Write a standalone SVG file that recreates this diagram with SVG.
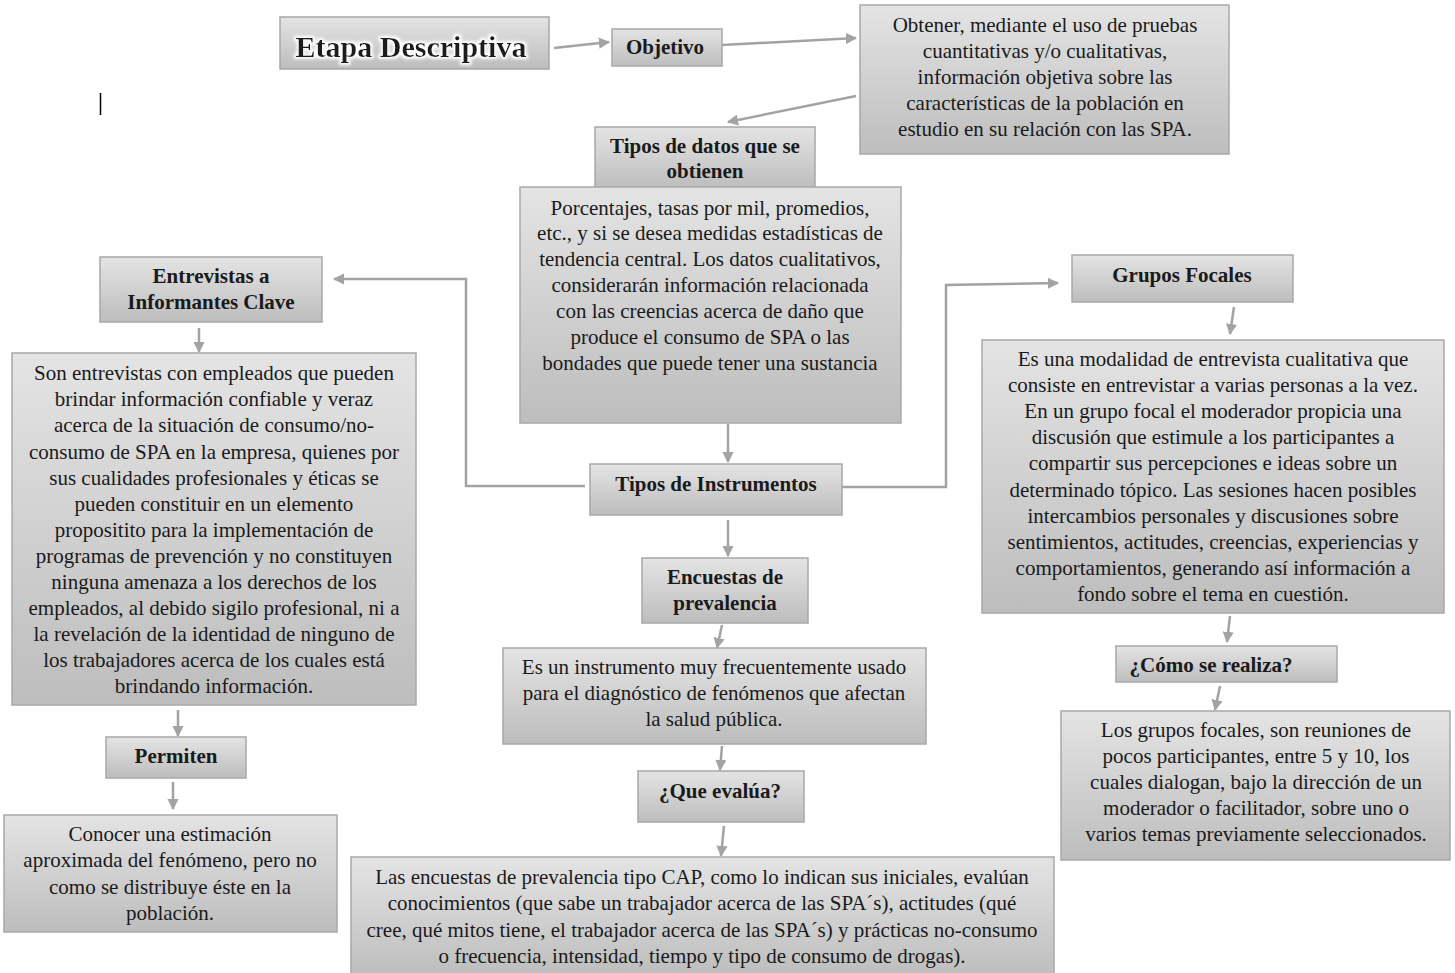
<svg xmlns="http://www.w3.org/2000/svg" width="1455" height="973" viewBox="0 0 1455 973">
  <defs>
    <linearGradient id="boxFill" x1="0" y1="0" x2="0" y2="1">
      <stop offset="0" stop-color="#e4e4e4"/>
      <stop offset="1" stop-color="#bdbdbd"/>
    </linearGradient>
    <filter id="glow" x="-10%" y="-30%" width="120%" height="160%">
      <feMorphology in="SourceAlpha" operator="dilate" radius="2" result="d"/>
      <feGaussianBlur in="d" stdDeviation="1.5" result="b"/>
      <feFlood flood-color="#ffffff"/>
      <feComposite in2="b" operator="in" result="g"/>
      <feMerge><feMergeNode in="g"/><feMergeNode in="SourceGraphic"/></feMerge>
    </filter>
    <marker id="arrow" viewBox="0 0 10 10" refX="9" refY="5" markerWidth="4.5" markerHeight="4.5" orient="auto" markerUnits="strokeWidth">
      <path d="M0,0 L10,5 L0,10 z" fill="#a3a3a3"/>
    </marker>
  </defs>
  <style>
    .box { fill: url(#boxFill); stroke: #a8a8a8; stroke-width: 1.5; }
    .t { font-family: "Liberation Serif", "Times New Roman", serif; font-size: 21px; fill: #1a1a1a; text-anchor: middle; dominant-baseline: central; }
    .h { font-weight: bold; }
    .title { font-size: 30px; font-weight: bold; }
    .conn { fill: none; stroke: #a3a3a3; stroke-width: 2.5; }
    .arr { marker-end: url(#arrow); }
  </style>

  <rect width="1455" height="973" fill="#ffffff"/>

  <!-- connectors -->
  <g id="connectors">
    <line class="conn arr" x1="554" y1="48" x2="609" y2="42"/>
    <line class="conn arr" x1="722" y1="45" x2="856" y2="38"/>
    <line class="conn arr" x1="856" y1="96" x2="728" y2="122"/>
    <line class="conn arr" x1="728" y1="424" x2="728" y2="462"/>
    <polyline class="conn arr" points="585,486 466,486 466,279 334,279"/>
    <polyline class="conn arr" points="842,487 946,487 946,285 1058,283"/>
    <line class="conn arr" x1="199" y1="328" x2="199" y2="352"/>
    <line class="conn arr" x1="178" y1="710" x2="178" y2="736"/>
    <line class="conn arr" x1="173" y1="782" x2="173" y2="809"/>
    <line class="conn arr" x1="1234" y1="307" x2="1230" y2="334"/>
    <line class="conn arr" x1="1230" y1="616" x2="1227" y2="642"/>
    <line class="conn arr" x1="1220" y1="686" x2="1215" y2="710"/>
    <line class="conn arr" x1="728" y1="520" x2="728" y2="556"/>
    <line class="conn arr" x1="722" y1="625" x2="717" y2="648"/>
    <line class="conn arr" x1="722" y1="746" x2="720" y2="770"/>
    <line class="conn arr" x1="724" y1="826" x2="721" y2="856"/>
  </g>

  <!-- text cursor -->
  <line x1="100.5" y1="93" x2="100.5" y2="115" stroke="#000000" stroke-width="1.5"/>

  <g id="etapa">
    <rect class="box" x="280" y="17" width="269" height="52"/>
    <text class="t title" x="411" y="46" filter="url(#glow)">Etapa Descriptiva</text>
  </g>

  <g id="objetivo">
    <rect class="box" x="612" y="29" width="110" height="37"/>
    <text class="t h" x="665" y="47">Objetivo</text>
  </g>

  <g id="obtener">
    <rect class="box" x="860" y="5" width="369" height="149"/>
    <text class="t" x="1045" y="25">Obtener, mediante el uso de pruebas</text>
    <text class="t" x="1045" y="51">cuantitativas y/o cualitativas,</text>
    <text class="t" x="1045" y="77">información objetiva sobre las</text>
    <text class="t" x="1045" y="103">características de la población en</text>
    <text class="t" x="1045" y="129">estudio en su relación con las SPA.</text>
  </g>

  <g id="tipos-datos">
    <rect class="box" x="595" y="127" width="220" height="61"/>
    <text class="t h" x="705" y="146">Tipos de datos que se</text>
    <text class="t h" x="705" y="171">obtienen</text>
  </g>

  <g id="porcentajes">
    <rect class="box" x="520" y="187" width="381" height="236"/>
    <text class="t" x="710" y="208">Porcentajes, tasas por mil, promedios,</text>
    <text class="t" x="710" y="233">etc., y si se desea medidas estadísticas de</text>
    <text class="t" x="710" y="259">tendencia central.  Los datos cualitativos,</text>
    <text class="t" x="710" y="285">considerarán información relacionada</text>
    <text class="t" x="710" y="311">con las creencias acerca de daño que</text>
    <text class="t" x="710" y="337">produce el consumo de SPA o las</text>
    <text class="t" x="710" y="363">bondades que puede tener una sustancia</text>
  </g>

  <g id="tipos-instrumentos">
    <rect class="box" x="590" y="464" width="252" height="51"/>
    <text class="t h" x="716" y="484">Tipos de Instrumentos</text>
  </g>

  <g id="entrevistas">
    <rect class="box" x="100" y="257" width="222" height="65"/>
    <text class="t h" x="211" y="276">Entrevistas a</text>
    <text class="t h" x="211" y="302">Informantes Clave</text>
  </g>

  <g id="son-entrevistas">
    <rect class="box" x="12" y="353" width="404" height="352"/>
    <text class="t" x="214" y="373">Son entrevistas con empleados que pueden</text>
    <text class="t" x="214" y="399">brindar información confiable y veraz</text>
    <text class="t" x="214" y="425">acerca de la situación de consumo/no-</text>
    <text class="t" x="214" y="452">consumo de SPA en la empresa, quienes por</text>
    <text class="t" x="214" y="478">sus cualidades profesionales y éticas se</text>
    <text class="t" x="214" y="504">pueden constituir en un elemento</text>
    <text class="t" x="214" y="530">propositito para la implementación de</text>
    <text class="t" x="214" y="556">programas de prevención y no constituyen</text>
    <text class="t" x="214" y="582">ninguna amenaza a los derechos de los</text>
    <text class="t" x="214" y="608">empleados, al debido sigilo profesional, ni a</text>
    <text class="t" x="214" y="634">la revelación de la identidad de ninguno de</text>
    <text class="t" x="214" y="660">los trabajadores acerca de los cuales está</text>
    <text class="t" x="214" y="686">brindando información.</text>
  </g>

  <g id="permiten">
    <rect class="box" x="106" y="737" width="140" height="41"/>
    <text class="t h" x="176" y="756">Permiten</text>
  </g>

  <g id="conocer">
    <rect class="box" x="4" y="815" width="333" height="117"/>
    <text class="t" x="170" y="834">Conocer una estimación</text>
    <text class="t" x="170" y="860">aproximada del fenómeno, pero no</text>
    <text class="t" x="170" y="887">como se distribuye éste en la</text>
    <text class="t" x="170" y="913">población.</text>
  </g>

  <g id="grupos-focales">
    <rect class="box" x="1072" y="255" width="221" height="47"/>
    <text class="t h" x="1182" y="275">Grupos Focales</text>
  </g>

  <g id="modalidad">
    <rect class="box" x="982" y="340" width="462" height="273"/>
    <text class="t" x="1213" y="359">Es una modalidad de entrevista cualitativa que</text>
    <text class="t" x="1213" y="385">consiste en entrevistar a varias personas a la vez.</text>
    <text class="t" x="1213" y="411">En un grupo focal el moderador propicia una</text>
    <text class="t" x="1213" y="437">discusión que estimule a los participantes a</text>
    <text class="t" x="1213" y="463">compartir sus percepciones e ideas sobre un</text>
    <text class="t" x="1213" y="490">determinado tópico. Las sesiones hacen posibles</text>
    <text class="t" x="1213" y="516">intercambios personales y discusiones sobre</text>
    <text class="t" x="1213" y="542">sentimientos, actitudes, creencias, experiencias y</text>
    <text class="t" x="1213" y="568">comportamientos, generando así información a</text>
    <text class="t" x="1213" y="594">fondo sobre el tema en cuestión.</text>
  </g>

  <g id="como-se-realiza">
    <rect class="box" x="1116" y="646" width="221" height="36"/>
    <text class="t h" x="1211" y="665">¿Cómo se realiza?</text>
  </g>

  <g id="grupos-reuniones">
    <rect class="box" x="1061" y="711" width="389" height="149"/>
    <text class="t" x="1256" y="730">Los grupos focales, son reuniones de</text>
    <text class="t" x="1256" y="756">pocos participantes, entre 5 y 10, los</text>
    <text class="t" x="1256" y="782">cuales dialogan, bajo la dirección de un</text>
    <text class="t" x="1256" y="808">moderador o facilitador, sobre uno o</text>
    <text class="t" x="1256" y="834">varios temas previamente seleccionados.</text>
  </g>

  <g id="encuestas">
    <rect class="box" x="642" y="558" width="166" height="65"/>
    <text class="t h" x="725" y="577">Encuestas de</text>
    <text class="t h" x="725" y="603">prevalencia</text>
  </g>

  <g id="instrumento">
    <rect class="box" x="503" y="648" width="423" height="96"/>
    <text class="t" x="714" y="667">Es un instrumento muy frecuentemente usado</text>
    <text class="t" x="714" y="693">para el diagnóstico de fenómenos que afectan</text>
    <text class="t" x="714" y="719">la salud pública.</text>
  </g>

  <g id="que-evalua">
    <rect class="box" x="638" y="771" width="166" height="51"/>
    <text class="t h" x="720" y="791">¿Que evalúa?</text>
  </g>

  <g id="encuestas-cap">
    <rect class="box" x="351" y="857" width="703" height="120"/>
    <text class="t" x="702" y="877">Las encuestas de prevalencia tipo CAP, como lo indican sus iniciales, evalúan</text>
    <text class="t" x="702" y="903">conocimientos (que sabe un trabajador acerca de las SPA´s), actitudes (qué</text>
    <text class="t" x="702" y="930">cree, qué mitos tiene, el trabajador acerca de las SPA´s) y prácticas no-consumo</text>
    <text class="t" x="702" y="956">o frecuencia, intensidad, tiempo y tipo de consumo de drogas).</text>
  </g>
</svg>
